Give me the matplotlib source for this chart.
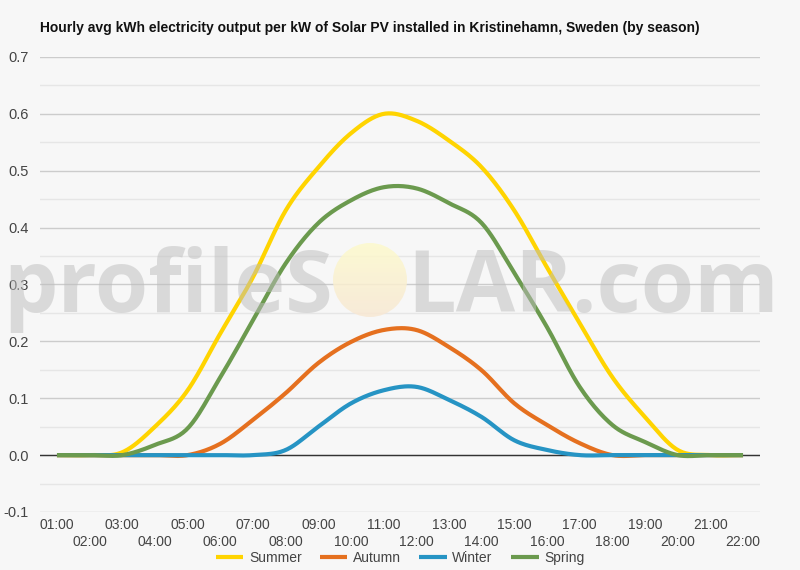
import numpy as np
import matplotlib
matplotlib.use('Agg')
import matplotlib.pyplot as plt
from matplotlib.patches import Circle

plt.rcParams['font.family'] = ['Liberation Sans', 'DejaVu Sans']

# hourly data (kWh per kW installed)
hours = ['01:00', '02:00', '03:00', '04:00', '05:00', '06:00', '07:00', '08:00',
         '09:00', '10:00', '11:00', '12:00', '13:00', '14:00', '15:00', '16:00',
         '17:00', '18:00', '19:00', '20:00', '21:00', '22:00']
summer = [0, 0, 0.005, 0.05, 0.114, 0.214, 0.313, 0.43, 0.506, 0.566, 0.6, 0.588,
          0.553, 0.506, 0.43, 0.33, 0.232, 0.137, 0.067, 0.009, 0, 0]
autumn = [0, 0, 0, 0, 0, 0.02, 0.062, 0.109, 0.162, 0.199, 0.22, 0.22,
          0.19, 0.149, 0.091, 0.053, 0.021, 0, 0, 0, 0, 0]
winter = [0, 0, 0, 0, 0, 0, 0, 0.009, 0.05, 0.091, 0.114, 0.12,
          0.097, 0.067, 0.026, 0.009, 0, 0, 0, 0, 0, 0]
spring = [0, 0, 0, 0.018, 0.047, 0.137, 0.237, 0.337, 0.408, 0.448, 0.471, 0.469,
          0.443, 0.408, 0.32, 0.225, 0.12, 0.053, 0.023, 0, 0, 0]

series = [('Summer', summer, '#ffd400'),
          ('Autumn', autumn, '#e5701f'),
          ('Winter', winter, '#2694c4'),
          ('Spring', spring, '#6b9a4e')]


def smooth(x, y, n=20):
    # catmull-rom style curve through the points
    x = np.asarray(x, float)
    y = np.asarray(y, float)
    xs, ys = [], []
    for i in range(len(x) - 1):
        y0 = y[i - 1] if i > 0 else y[i]
        y3 = y[i + 2] if i + 2 < len(y) else y[i + 1]
        m1 = (y[i + 1] - y0) / 2
        m2 = (y3 - y[i]) / 2
        t = np.linspace(0, 1, n, endpoint=False)
        h00 = 2 * t**3 - 3 * t**2 + 1
        h10 = t**3 - 2 * t**2 + t
        h01 = -2 * t**3 + 3 * t**2
        h11 = t**3 - t**2
        xs.append(x[i] + t * (x[i + 1] - x[i]))
        ys.append(h00 * y[i] + h10 * m1 + h01 * y[i + 1] + h11 * m2)
    xs.append([x[-1]])
    ys.append([y[-1]])
    return np.concatenate(xs), np.concatenate(ys)


fig = plt.figure(figsize=(8, 5.7), dpi=100)
fig.patch.set_facecolor('#f7f7f7')
ax = fig.add_axes([0.05, 0.1018, 0.90, 0.7982])
ax.set_facecolor('#f7f7f7')

x = np.arange(len(hours))
for name, vals, col in series:
    sx, sy = smooth(x, vals)
    ax.plot(sx, sy, color=col, lw=3, label=name, solid_capstyle='butt', zorder=3)

ax.set_xlim(-0.52, len(hours) - 0.48)
ax.set_ylim(-0.1, 0.7)
ax.set_yticks(np.arange(-0.1, 0.71, 0.1))
ax.set_yticklabels([f'{v:.1f}' for v in np.arange(-0.1, 0.71, 0.1)])
ax.set_yticks(np.arange(-0.05, 0.7, 0.1), minor=True)
ax.grid(axis='y', which='major', color='#cccccc', lw=1)
ax.grid(axis='y', which='minor', color='#e6e6e6', lw=1)
ax.axhline(0, color='#333333', lw=1, zorder=2)
ax.tick_params(axis='y', which='both', length=0, labelsize=10.5, labelcolor='#444444', pad=8)

ax.set_xticks(x)
ax.set_xticklabels([h if i % 2 == 0 else '\n' + h for i, h in enumerate(hours)],
                   linespacing=1.3)
ax.tick_params(axis='x', length=0, labelsize=10, labelcolor='#444444', pad=4)
for s in ax.spines.values():
    s.set_visible(False)

# watermark
wm = dict(fontsize=62, color='#bdbdbd', va='baseline', family='Open Sans',
          fontweight='bold', alpha=0.5, zorder=5)
fig.text(333 / 800, 1 - 312 / 570, 'profileS', ha='right', **wm)
fig.text(407 / 800, 1 - 312 / 570, 'LAR.com', ha='left', **wm)

# sun in place of the O
sax = fig.add_axes([333 / 800, 1 - 317 / 570, 74 / 800, 74 / 570], zorder=4)
sax.set_axis_off()
grad = np.linspace(0, 1, 64)[:, None] * np.ones((1, 4))
top = np.array([0.992, 0.980, 0.800])
bot = np.array([0.973, 0.910, 0.830])
img = top[None, None, :] * (1 - grad[:, :1, None]) + bot[None, None, :] * grad[:, :1, None]
im = sax.imshow(img, extent=[0, 1, 0, 1], aspect='auto', origin='upper', alpha=0.85)
sax.set_xlim(0, 1)
sax.set_ylim(0, 1)
clip = Circle((0.5, 0.5), 0.5, transform=sax.transAxes)
im.set_clip_path(clip)

fig.text(40 / 800, 1 - 28 / 570,
         'Hourly avg kWh electricity output per kW of Solar PV installed in Kristinehamn, Sweden (by season)',
         fontsize=10, fontweight='bold', color='#111111', va='center', ha='left')

ax.legend(loc='center', bbox_to_anchor=(0.5, -0.101), ncol=4, frameon=False,
          fontsize=10, labelcolor='#444444', handlelength=2, handletextpad=0.4,
          columnspacing=1.3)

fig.savefig('out.png', dpi=100, facecolor=fig.get_facecolor())
